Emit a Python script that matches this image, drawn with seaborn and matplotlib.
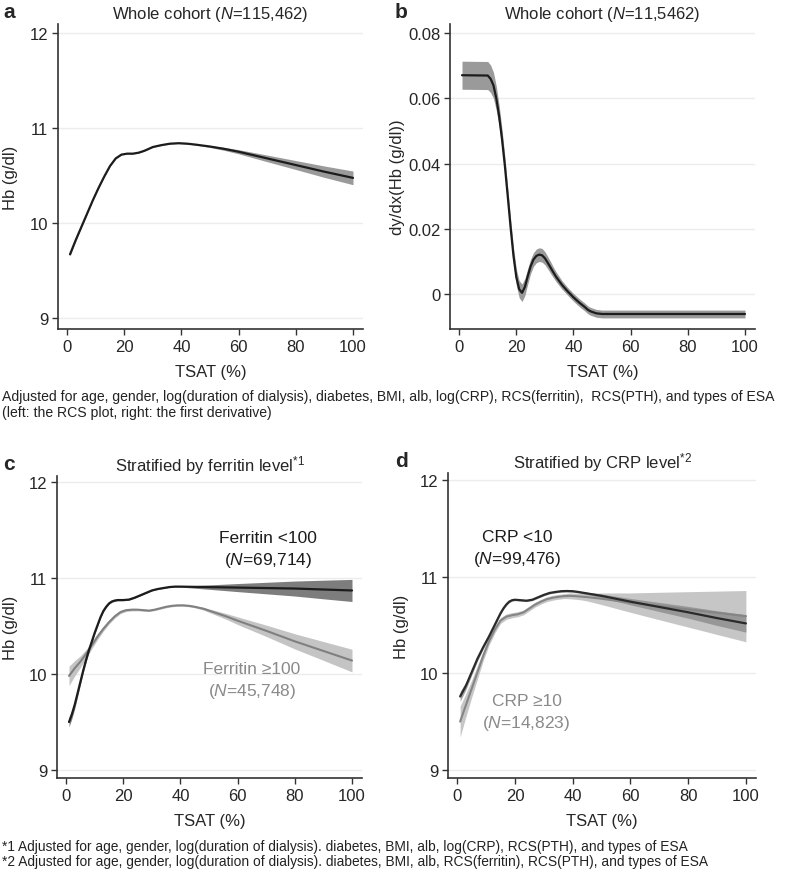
import numpy as np
import pandas as pd
import matplotlib
matplotlib.use("Agg")
import matplotlib.pyplot as plt
import seaborn as sns

sns.set_theme(style="white")
plt.rcParams["font.family"] = ["Liberation Sans", "DejaVu Sans"]
plt.rcParams["mathtext.fontset"] = "custom"
plt.rcParams["mathtext.rm"] = "Liberation Sans"
plt.rcParams["mathtext.it"] = "Liberation Sans:italic"

# ---------------- DATA ----------------
# a: whole cohort, Hb vs TSAT
a_x = [1, 3, 5, 7, 9, 11, 13, 15, 17, 19, 21, 23, 25, 27, 30, 33, 36, 39, 42, 45,
       50, 55, 60, 70, 80, 90, 100]
a_y = [9.67, 9.82, 9.96, 10.10, 10.24, 10.37, 10.49, 10.60, 10.68, 10.72, 10.73, 10.73,
       10.74, 10.76, 10.80, 10.82, 10.835, 10.84, 10.835, 10.825, 10.805, 10.78, 10.75,
       10.68, 10.61, 10.54, 10.475]
a_ci = [0.02, 0.012, 0.008, 0.006, 0.005, 0.004, 0.004, 0.004, 0.004, 0.004, 0.004, 0.004,
        0.004, 0.004, 0.004, 0.004, 0.004, 0.004, 0.004, 0.005, 0.01, 0.016, 0.022,
        0.035, 0.047, 0.06, 0.072]

# b: first derivative
b_x = [1, 10, 11, 12, 13, 14, 15, 16, 17, 18, 19, 20, 21, 22, 23, 24, 25, 26, 27, 28,
       29, 30, 31, 32, 33, 34, 36, 38, 40, 42, 44, 45, 46, 48, 50, 100]
b_y = [0.0671, 0.0670, 0.0660, 0.0640, 0.0600, 0.0545, 0.0475, 0.0393, 0.0300, 0.0205,
       0.0118, 0.0052, 0.0015, 0.0004, 0.0022, 0.0055, 0.0085, 0.0106, 0.0117, 0.0121,
       0.0119, 0.0110, 0.0096, 0.0081, 0.0066, 0.0052, 0.0028, 0.0008, -0.0010, -0.0026,
       -0.0040, -0.0048, -0.0053, -0.0059, -0.0061, -0.0061]
b_ci = [0.0043, 0.0043, 0.0042, 0.0040, 0.0037, 0.0033, 0.0030, 0.0028, 0.0026, 0.0025,
        0.0025, 0.0025, 0.0026, 0.0027, 0.0026, 0.0024, 0.0022, 0.0021, 0.0021, 0.0021,
        0.0021, 0.0020, 0.0019, 0.0018, 0.0016, 0.0015, 0.0013, 0.0012, 0.0012, 0.0012,
        0.0012, 0.0012, 0.0012, 0.0012, 0.0012, 0.0012]

# c: stratified by ferritin
c_lo_x = [1, 2, 3, 4, 5, 6, 7, 8, 9, 10, 11, 12, 13, 14, 15, 16, 17, 18, 20, 22, 24, 26,
          28, 30, 32, 34, 36, 38, 40, 50, 60, 70, 80, 90, 100]
c_lo_y = [9.50, 9.58, 9.68, 9.80, 9.92, 10.04, 10.15, 10.25, 10.34, 10.43, 10.51, 10.59,
          10.655, 10.70, 10.735, 10.755, 10.765, 10.77, 10.77, 10.775, 10.795, 10.82,
          10.845, 10.87, 10.885, 10.895, 10.905, 10.91, 10.91, 10.905, 10.90, 10.895,
          10.89, 10.88, 10.87]
c_lo_ci = [0.05, 0.045, 0.04, 0.035, 0.03, 0.027, 0.024, 0.021, 0.018, 0.016, 0.014,
           0.012, 0.011, 0.01, 0.009, 0.008, 0.008, 0.007, 0.007, 0.006, 0.006, 0.006,
           0.005, 0.005, 0.005, 0.005, 0.005, 0.005, 0.005, 0.023, 0.042, 0.06, 0.078,
           0.097, 0.115]
c_hi_x = [1, 3, 5, 7, 9, 11, 13, 15, 17, 19, 21, 23, 25, 27, 29, 31, 33, 35, 37, 39, 41,
          43, 45, 48, 52, 56, 60, 70, 80, 90, 100]
c_hi_y = [9.98, 10.06, 10.13, 10.21, 10.30, 10.39, 10.47, 10.54, 10.60, 10.645, 10.665,
          10.67, 10.67, 10.665, 10.66, 10.67, 10.685, 10.70, 10.71, 10.715, 10.715, 10.71,
          10.70, 10.68, 10.64, 10.60, 10.555, 10.45, 10.34, 10.24, 10.14]
c_hi_ci = [0.10, 0.08, 0.06, 0.045, 0.035, 0.03, 0.025, 0.02, 0.018, 0.016, 0.014, 0.013,
           0.012, 0.011, 0.01, 0.01, 0.01, 0.01, 0.01, 0.01, 0.01, 0.01, 0.01, 0.014,
           0.022, 0.03, 0.04, 0.059, 0.079, 0.098, 0.118]

# d: stratified by CRP
d_lo_x = [1, 3, 5, 7, 9, 11, 13, 15, 16, 17, 18, 19, 20, 22, 24, 26, 28, 30, 32, 34, 36,
          38, 40, 42, 45, 50, 55, 60, 70, 80, 90, 100]
d_lo_y = [9.76, 9.87, 10.01, 10.15, 10.27, 10.38, 10.50, 10.62, 10.67, 10.71, 10.74,
          10.755, 10.76, 10.755, 10.75, 10.76, 10.785, 10.81, 10.83, 10.84, 10.848, 10.85,
          10.848, 10.84, 10.825, 10.80, 10.77, 10.74, 10.685, 10.63, 10.57, 10.515]
d_lo_ci = [0.05, 0.04, 0.03, 0.025, 0.02, 0.018, 0.015, 0.012, 0.012, 0.011, 0.011, 0.01,
           0.01, 0.01, 0.01, 0.01, 0.01, 0.01, 0.01, 0.01, 0.01, 0.01, 0.01, 0.01, 0.012,
           0.019, 0.026, 0.033, 0.047, 0.061, 0.076, 0.09]
d_hi_x = [1, 3, 5, 7, 9, 11, 13, 15, 17, 19, 21, 23, 25, 27, 29, 31, 33, 35, 37, 39, 41,
          43, 45, 50, 55, 60, 70, 80, 90, 100]
d_hi_y = [9.50, 9.67, 9.84, 10.01, 10.18, 10.33, 10.45, 10.545, 10.585, 10.60, 10.61,
          10.63, 10.67, 10.71, 10.74, 10.765, 10.78, 10.79, 10.797, 10.80, 10.797, 10.792,
          10.787, 10.77, 10.75, 10.73, 10.695, 10.66, 10.625, 10.59]
d_hi_ci = [0.16, 0.12, 0.09, 0.07, 0.05, 0.04, 0.035, 0.03, 0.028, 0.027, 0.026, 0.025,
           0.025, 0.025, 0.025, 0.025, 0.025, 0.025, 0.025, 0.03, 0.032, 0.034, 0.04, 0.06,
           0.08, 0.10, 0.142, 0.183, 0.224, 0.265]

BLACK = "#1c1c1c"
GREY = "#808080"

W, H = 785, 870
fig = plt.figure(figsize=(W / 100, H / 100), dpi=100)


def make_ax(l, t, r, b):
    return fig.add_axes([l / W, 1 - b / H, (r - l) / W, (b - t) / H])


def curve(ax, x, y, ci, line_color, band_color, lw=1.6, alpha=1.0):
    df = pd.DataFrame({"tsat": x, "fit": y, "ci": ci})
    ax.fill_between(df["tsat"], df["fit"] - df["ci"], df["fit"] + df["ci"],
                    color=band_color, alpha=alpha, lw=0)
    sns.lineplot(data=df, x="tsat", y="fit", ax=ax, color=line_color, lw=lw,
                 estimator=None, sort=True)


def style(ax, ylim, yticks, ylab, title, letter, lab_x):
    ax.set_xlim(-3.2, 103.5)
    ax.set_ylim(*ylim)
    ax.set_xticks([0, 20, 40, 60, 80, 100])
    ax.set_yticks(yticks)
    ax.grid(axis="y", color="#ececec", lw=1.0)
    ax.grid(axis="x", visible=False)
    for s in ["top", "right"]:
        ax.spines[s].set_visible(False)
    for s in ["left", "bottom"]:
        ax.spines[s].set_color("#333333")
        ax.spines[s].set_linewidth(1.2)
    ax.tick_params(axis="both", which="major", direction="out", length=4, width=1.0,
                   color="#333333", labelsize=12, pad=3, left=True, bottom=True)
    ax.set_xlabel("TSAT (%)", fontsize=12, labelpad=7.5)
    ax.set_ylabel(ylab, fontsize=12)
    ax.yaxis.set_label_coords(lab_x, 0.5)
    ax.set_title(title, fontsize=12, pad=4)
    pos = ax.get_position()
    fig.text(0.004 if pos.x0 < 0.5 else 0.503, pos.y1 + 0.004, letter,
             fontsize=15, fontweight="bold", va="bottom", ha="left")


# a
ax_a = make_ax(58, 25, 363, 330)
curve(ax_a, a_x, a_y, a_ci, BLACK, "#9a9a9a")
style(ax_a, (8.884, 12.095), [9, 10, 11, 12], "Hb (g/dl)",
      r"Whole cohort ($\mathit{N}$=115,462)", "a", -0.131)

# b
ax_b = make_ax(450, 25, 755, 330)
curve(ax_b, b_x, b_y, b_ci, BLACK, "#9a9a9a")
style(ax_b, (-0.0107, 0.0828), [0, 0.02, 0.04, 0.06, 0.08], "dy/dx(Hb (g/dl))",
      r"Whole cohort ($\mathit{N}$=11,5462)", "b", -0.148)
ax_b.set_yticklabels(["0", "0.02", "0.04", "0.06", "0.08"])

# c
ax_c = make_ax(57, 477, 362, 779)
curve(ax_c, c_hi_x, c_hi_y, c_hi_ci, GREY, "#c4c4c4", lw=1.5)
curve(ax_c, c_lo_x, c_lo_y, c_lo_ci, BLACK, "#6f6f6f", alpha=0.9)
style(ax_c, (8.917, 12.062), [9, 10, 11, 12], "Hb (g/dl)",
      r"Stratified by ferritin level$^{*1}$", "c", -0.128)
ax_c.text(70.7, 11.30, "Ferritin <100\n" + r"($\mathit{N}$=69,714)", ha="center",
          va="center", fontsize=12.5, color=BLACK, linespacing=1.35)
ax_c.text(65.0, 9.93, "Ferritin \u2265100\n" + r"($\mathit{N}$=45,748)", ha="center",
          va="center", fontsize=12.5, color="#8a8a8a", linespacing=1.35)

# d
ax_d = make_ax(448, 474, 756, 779)
curve(ax_d, d_hi_x, d_hi_y, d_hi_ci, "#858585", "#c6c6c6", lw=1.5)
curve(ax_d, d_lo_x, d_lo_y, d_lo_ci, "#2a2a2a", "#8c8c8c", alpha=0.8)
style(ax_d, (8.917, 12.07), [9, 10, 11, 12], "Hb (g/dl)",
      r"Stratified by CRP level$^{*2}$", "d", -0.127)
ax_d.text(20.8, 11.29, "CRP <10\n" + r"($\mathit{N}$=99,476)", ha="center",
          va="center", fontsize=12.5, color=BLACK, linespacing=1.35)
ax_d.text(24.0, 9.59, "CRP \u226510\n" + r"($\mathit{N}$=14,823)", ha="center",
          va="center", fontsize=12.5, color="#8a8a8a", linespacing=1.35)

# footnotes
notes = [
    (397, 10.1, "Adjusted for age, gender, log(duration of dialysis), diabetes, BMI, alb, "
                "log(CRP), RCS(ferritin),  RCS(PTH), and types of ESA"),
    (413, 10.1, "(left: the RCS plot, right: the first derivative)"),
    (847, 9.95, "*1 Adjusted for age, gender, log(duration of dialysis). diabetes, BMI, alb, "
                "log(CRP), RCS(PTH), and types of ESA"),
    (862, 9.95, "*2 Adjusted for age, gender, log(duration of dialysis). diabetes, BMI, alb, "
                "RCS(ferritin), RCS(PTH), and types of ESA"),
]
for py, fs, txt in notes:
    fig.text(2 / W, 1 - py / H, txt, fontsize=fs, va="center", ha="left",
             color="#222222")

fig.savefig("out.png", dpi=100)
